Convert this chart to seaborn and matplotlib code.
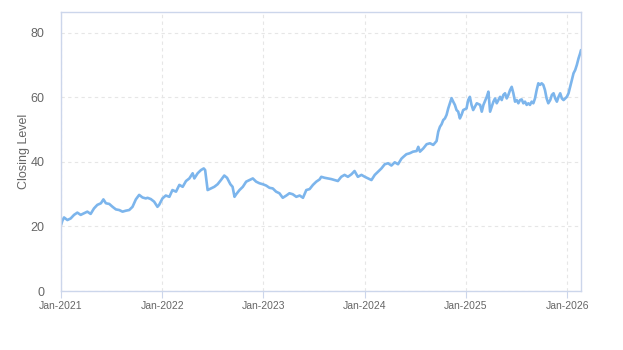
import matplotlib
matplotlib.use("Agg")
import matplotlib.pyplot as plt
import matplotlib.dates as mdates
import numpy as np
import pandas as pd
import seaborn as sns

# Closing level, sampled roughly every 12 days; day offsets from 2021-01-01
start_date = "2021-01-01"
day_offset = [
    0, 5, 11, 23, 35, 47, 59, 71, 83, 95, 107, 119, 131, 144, 153, 162, 174, 186, 198,
    210, 222, 234, 246, 258, 270, 282, 294, 306, 312, 324, 336, 348, 354, 366, 378, 391,
    402, 415, 427, 439, 451, 463, 475, 481, 493, 505, 515, 520, 529, 541, 553, 565, 577,
    589, 599, 611, 619, 626, 632, 644, 656, 668, 680, 692, 704, 716, 728, 740, 752, 764,
    776, 788, 800, 813, 824, 836, 849, 861, 873, 885, 897, 909, 921, 933, 939, 951, 963,
    975, 987, 999, 1011, 1023, 1035, 1048, 1059, 1071, 1084, 1096, 1108, 1120, 1132, 1144,
    1156, 1168, 1180, 1192, 1204, 1216, 1228, 1234, 1246, 1258, 1270, 1283, 1289, 1295,
    1307, 1319, 1331, 1343, 1355, 1361, 1367, 1373, 1379, 1385, 1391, 1397, 1403, 1409,
    1415, 1421, 1427, 1433, 1439, 1445, 1451, 1463, 1469, 1475, 1481, 1487, 1494, 1500,
    1512, 1518, 1524, 1536, 1542, 1548, 1554, 1560, 1566, 1572, 1578, 1584, 1590, 1596,
    1602, 1608, 1614, 1620, 1626, 1632, 1638, 1644, 1650, 1656, 1662, 1668, 1674, 1680,
    1686, 1692, 1698, 1704, 1710, 1716, 1722, 1728, 1734, 1740, 1746, 1752, 1758, 1765,
    1771, 1777, 1783, 1789, 1795, 1801, 1807, 1813, 1819, 1825, 1831, 1837, 1843, 1849,
    1855, 1861, 1867, 1873, 1876,
]
closing_level = [
    20.4, 21.8, 22.8, 22.0, 22.5, 23.6, 24.3, 23.6, 24.1, 24.6, 23.9, 25.6, 26.7, 27.2, 28.4,
    27.2, 27.0, 26.1, 25.3, 25.1, 24.6, 24.9, 25.1, 26.1, 28.4, 29.8, 29.0, 28.7, 28.9, 28.5,
    27.7, 26.1, 26.7, 28.7, 29.6, 29.2, 31.3, 30.8, 32.9, 32.3, 34.1, 34.9, 36.5, 34.9, 36.5,
    37.5, 38.0, 37.5, 31.3, 31.8, 32.3, 33.1, 34.4, 35.8, 35.1, 33.1, 32.3, 29.2, 30.0, 31.3,
    32.3, 33.9, 34.4, 34.9, 33.9, 33.4, 33.1, 32.7, 32.0, 31.8, 30.8, 30.3, 28.9, 29.6, 30.3,
    30.0, 29.2, 29.6, 28.9, 31.3, 31.6, 32.9, 33.9, 34.6, 35.4, 35.1, 34.9, 34.7, 34.4, 34.1,
    35.4, 36.0, 35.4, 36.2, 37.2, 35.4, 36.0, 35.4, 34.9, 34.4, 36.0, 37.0, 38.0, 39.3, 39.6,
    38.9, 39.9, 39.3, 41.0, 41.5, 42.4, 42.7, 43.2, 43.4, 44.7, 43.2, 44.2, 45.5, 45.8, 45.3,
    46.5, 49.4, 50.9, 51.7, 53.0, 53.5, 54.6, 56.6, 58.2, 59.8, 58.7, 57.7, 56.1, 55.6, 53.5,
    54.6, 56.1, 56.6, 59.2, 60.2, 57.7, 56.1, 57.2, 58.2, 57.7, 55.6, 57.7, 60.2, 61.8, 55.6,
    57.2, 58.7, 59.7, 58.2, 59.2, 60.2, 59.2, 60.8, 61.3, 59.7, 60.8, 62.3, 63.3, 61.3, 58.7,
    59.2, 58.2, 59.2, 59.4, 58.2, 58.7, 57.7, 58.2, 57.7, 58.7, 58.2, 59.7, 62.3, 64.4, 63.9,
    64.4, 63.9, 62.3, 59.7, 58.2, 59.2, 60.8, 61.3, 59.7, 58.7, 60.2, 61.3, 59.7, 59.2, 59.7,
    60.2, 61.3, 63.3, 65.4, 67.5, 68.5, 70.1, 72.1, 73.7, 74.7,
]
y_ticks = [0, 20, 40, 60, 80]
x_tick_years = [2021, 2022, 2023, 2024, 2025, 2026]

df = pd.DataFrame({
    "Date": pd.Timestamp(start_date) + pd.to_timedelta(day_offset, unit="D"),
    "Closing Level": closing_level,
})

sns.set_theme(style="white")
plt.rcParams["font.family"] = ["Liberation Sans", "DejaVu Sans"]

fig = plt.figure(figsize=(6.23, 3.5), dpi=100)
ax = fig.add_axes([61 / 623, 1 - 291 / 350, 520 / 623, 279 / 350])

sns.lineplot(data=df, x="Date", y="Closing Level", ax=ax,
             color="#7cb5ec", linewidth=1.9)

ax.set_xlim(df["Date"].iloc[0], df["Date"].iloc[-1])
ax.set_ylim(0, 86.5)
ax.set_yticks(y_ticks)
ax.set_xticks([pd.Timestamp(f"{y}-01-01") for y in x_tick_years])
ax.xaxis.set_major_formatter(mdates.DateFormatter("%b-%Y"))

ax.grid(True, which="major", axis="both", color="#e6e6e6",
        linestyle=(0, (3, 3)), linewidth=0.8)
for side in ["left", "right", "top", "bottom"]:
    ax.spines[side].set_visible(True)
    ax.spines[side].set_color("#ccd6eb")
    ax.spines[side].set_linewidth(1.0)

ax.tick_params(axis="x", which="major", bottom=True, length=5, width=0.8,
               color="#ccd6eb", labelsize=7.5, labelcolor="#666666", pad=2)
ax.tick_params(axis="y", which="major", left=False, labelsize=9,
               labelcolor="#666666", pad=6)

ax.set_xlabel("")
ax.set_ylabel("Closing Level", fontsize=9, color="#666666", labelpad=0)

fig.savefig("out.png", dpi=100)
